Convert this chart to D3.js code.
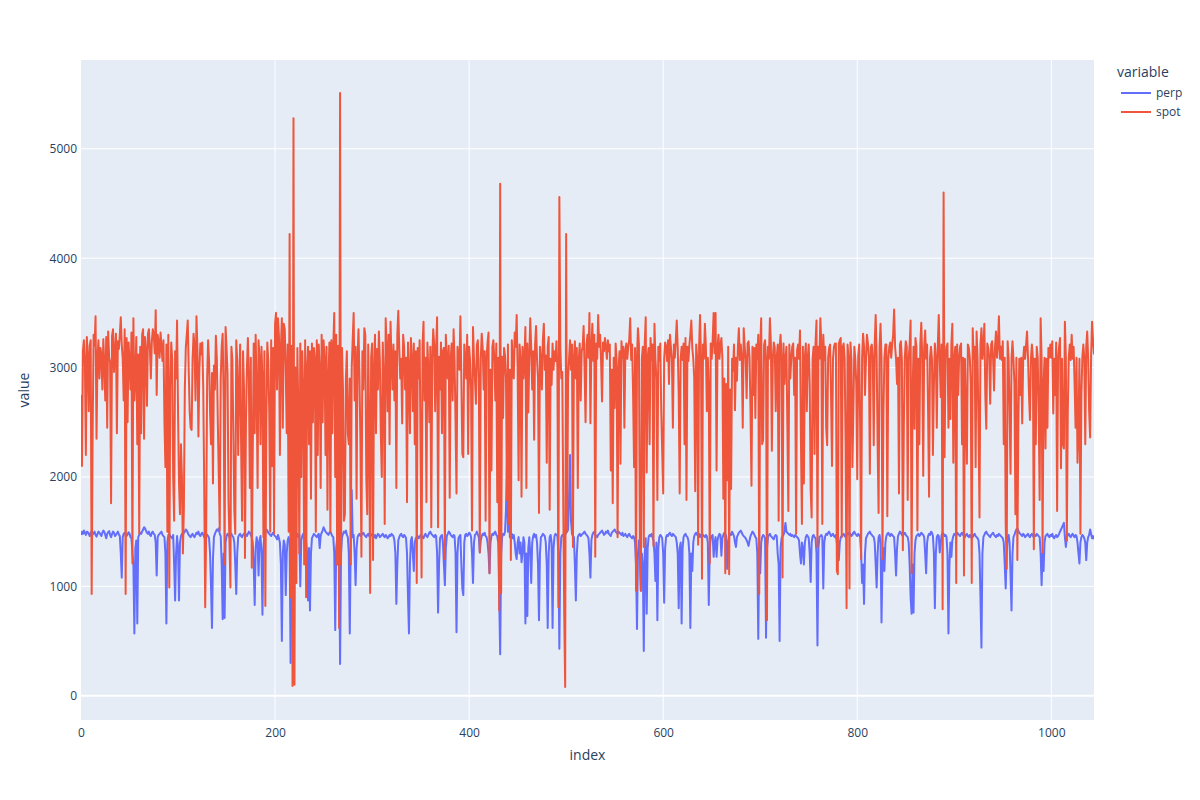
<!DOCTYPE html>
<html>
<head>
<meta charset="utf-8">
<script src="https://cdnjs.cloudflare.com/ajax/libs/d3/7.8.5/d3.min.js"></script>
<style>
  body { margin: 0; background: #fff; }
  svg text { font-family: "Open Sans", sans-serif; fill: #2a3f5f; }
</style>
</head>
<body>
<script>
// series (index 0..1044)
const seriesNames = ["perp", "spot"];
const seriesColors = ["#636efa", "#EF553B"];
const xTicks = [0, 200, 400, 600, 800, 1000];
const yTicks = [0, 1000, 2000, 3000, 4000, 5000];

const perp = [
1470,1500,1480,1510,1490,1470,1500,1495,1480,1460,1490,1505,1475,1485,1500,1470,1455,1480,1500,1490,
1475,1460,1490,1510,1500,1470,1440,1480,1495,1505,1470,1450,1480,1500,1490,1460,1470,1485,1500,1475,
1460,1300,1080,1450,1480,1490,1470,1460,1475,1495,1480,1450,1440,1300,1200,570,1350,1420,660,1450,
1470,1490,1480,1500,1520,1540,1530,1510,1490,1480,1500,1470,1460,1490,1500,1480,1470,1400,1100,1450,
1470,1480,1490,1500,1470,1460,1450,1300,660,1400,1470,1480,1460,1450,1440,1470,1200,870,1300,1460,
1350,870,1400,1460,1480,1470,1490,1500,1520,1510,1490,1470,1460,1450,1470,1480,1460,1450,1470,1490,
1480,1500,1470,1460,1480,1490,1470,1450,1460,1480,1470,1460,1440,1300,1000,620,1250,1450,1480,1500,
1520,1510,1530,1480,1460,1200,700,1300,710,1400,1460,1480,1470,1450,1470,1480,1460,1450,1400,1200,
930,1300,1450,1470,1480,1460,1450,1470,1480,1490,1470,1460,1480,1500,1490,1470,1450,1400,1200,830,
1350,1450,1400,1100,1420,1460,1300,740,1350,1470,1500,1520,1510,1490,1480,1470,1460,1480,1490,1470,
1460,1450,1430,1470,1440,1400,1200,500,1300,1420,1380,920,1300,1420,1450,1400,300,1300,1450,1480,
1100,1400,1460,1480,1450,1470,1000,1420,1460,1480,1470,1450,1420,1300,870,1350,780,1300,1440,1460,
1480,1470,1460,1450,1470,1480,1350,1460,1490,1510,1540,1520,1500,1490,1480,1470,1490,1500,1480,1460,
1450,1300,600,1350,1440,1460,1420,290,1300,1450,1480,1500,1490,1510,1470,1450,1300,570,1400,1880,
1450,1470,1300,1010,1350,1450,1470,1480,1460,1470,1480,1490,1470,1460,1450,1470,1480,1460,1450,1470,
1480,1460,1450,1470,1440,1460,1480,1470,1450,1460,1470,1480,1460,1450,1470,1460,1440,1450,1470,1460,
1480,1470,1460,1420,1300,840,1200,1420,1450,1470,1480,1460,1450,1470,1460,1440,1300,900,570,1200,
1420,1450,1300,1140,1400,1440,1450,1460,1440,1450,1470,1460,1450,1440,1470,1480,1460,1450,1470,1490,
1500,1480,1470,1460,1450,1470,1460,1300,760,1200,1440,1460,1470,1400,1200,1010,1350,1460,1480,1500,
1490,1470,1460,1450,1470,1460,1300,580,1300,1440,1460,1470,1200,980,920,1400,1470,1480,1460,1470,
1490,1480,1450,1300,1030,1400,1470,1480,1500,1470,1450,1310,1420,1460,1480,1470,1490,1460,1450,1400,
1300,1120,1400,1460,1480,1470,1490,1500,1470,1460,1400,900,380,1300,1450,1480,1470,1500,1700,2130,
1500,1700,1450,1460,1480,1440,1470,1400,1300,1250,1400,1450,1300,1400,1220,1300,1450,1400,660,1300,
730,1350,1450,1300,1030,1400,1460,1480,1450,1470,1400,1200,690,1300,1450,1460,1480,1470,1460,1400,
1200,620,1300,1450,1470,1400,620,1350,1460,1480,1470,1460,1300,430,1300,1450,1470,1460,1480,1470,
1490,1500,1520,1800,2200,1600,1480,1460,1450,1200,870,1300,1450,1470,1480,1460,1470,1480,1490,1500,
1480,1470,1460,1440,1300,1080,1420,1470,1490,1500,1470,1460,1450,1470,1480,1490,1500,1510,1490,1470,
1480,1500,1490,1510,1480,1470,1460,1490,1500,1510,1520,1500,1490,1480,1500,1490,1480,1470,1490,1460,
1470,1480,1460,1450,1470,1480,1460,1450,1440,1460,1450,1400,1200,610,1300,1420,1300,960,1300,1200,
410,1300,1440,750,1350,1450,1470,1460,1480,1450,1420,1300,1050,1400,690,1350,1450,1470,1460,1440,
1300,850,1350,1450,1470,1460,1480,1490,1470,1460,1480,1470,1460,1450,1400,1300,800,1350,1400,660,
1350,1450,1470,1480,1460,1450,1420,1300,620,1300,1140,1400,1460,1480,1490,1470,1460,1480,1450,1470,
1480,1470,1460,1450,1470,1460,1400,830,1350,1440,1460,1470,1270,1400,1450,1270,1420,1460,1480,1470,
1280,1440,1470,1490,1480,1460,1160,1400,1460,1480,1470,1500,1480,1460,1400,1360,1450,1470,1490,1500,
1510,1490,1470,1460,1450,1440,1420,1400,1370,1420,1460,1480,1500,1490,1470,1450,1440,1300,520,1350,
1120,1400,1450,1470,1460,1440,530,1350,1450,1470,1480,1460,1450,1440,1430,1460,1470,1460,1300,1200,
500,1350,1440,1460,1470,1500,1580,1500,1490,1480,1470,1480,1460,1470,1460,1450,1470,1460,1450,1440,
1420,1300,1210,1400,1350,1200,1400,1450,1470,1460,1440,1300,1040,1400,1460,1470,1450,1440,1300,460,
1350,1450,1460,1470,1450,980,1400,1460,1480,1470,1490,1500,1480,1460,1470,1480,1460,1450,1470,1400,
1300,1240,1400,1450,1460,1470,1480,1460,1450,1470,1480,1490,1470,1480,1460,1470,1490,1500,1480,1470,
1460,1480,1470,1450,1300,1030,1200,840,1300,1440,1460,1480,1490,1500,1480,1470,1460,1450,1400,1200,
990,1300,1450,1470,1400,670,1200,1350,1140,1400,1460,1480,1490,1470,1460,1480,1470,1460,1450,1300,
1100,1350,1460,1480,1500,1490,1470,1460,1480,1490,1470,1460,1450,1400,1200,900,750,1200,760,1300,
1420,1460,1470,1480,1460,1470,1490,1480,1470,1450,1300,1120,1400,1460,1480,1470,1500,1490,1460,1300,
800,1300,1450,1470,1460,1310,1400,1470,1490,1480,1460,1470,1450,1300,570,1200,1400,1270,1420,1460,
1480,1470,1460,1490,1480,1470,1460,1480,1490,1470,1460,1450,1470,1480,1460,1450,1470,1460,1440,1450,
1470,1480,1460,1450,1440,1420,1300,900,440,1300,1450,1470,1490,1500,1480,1470,1460,1450,1470,1480,
1490,1470,1460,1450,1470,1460,1480,1470,1460,1450,1440,1400,1200,980,1300,1450,1470,1400,1100,780,
1300,1450,1470,1500,1520,1530,1510,1490,1480,1470,1460,1480,1470,1450,1460,1470,1480,1460,1450,1470,
1480,1460,1450,1470,1460,1480,1470,1460,1450,1300,1010,1300,1140,1400,1460,1470,1480,1460,1450,1470,
1460,1480,1450,1440,1460,1470,1450,1460,1480,1500,1520,1540,1560,1580,1450,1360,1450,1470,1480,1460,
1450,1470,1480,1460,1450,1470,1460,1400,1300,1210,1400,1450,1470,1460,1440,1400,1240,1400,1450,1470,
1520,1480,1440,1460,1430
];

const spot = [
2750,2100,3150,3250,3050,2200,3280,3100,2600,3200,3250,930,2400,3300,3200,3470,2350,3100,3250,2900,
3180,3120,2800,3260,3020,2700,3280,2450,3330,3090,3050,1760,3290,3350,2960,3140,3310,2400,3240,3170,
3300,3460,3210,3080,2700,3350,930,3270,2500,3230,3060,2800,3320,1210,3450,2700,2900,3280,2300,3120,
1480,3190,2400,3300,3350,2350,3280,3150,2650,3310,3350,3170,2900,3240,3350,3290,3130,3525,2750,3300,
3240,3090,3320,3190,3060,3250,2500,2090,3210,1500,3300,990,2800,3230,3070,2000,1600,3150,2900,3430,
2600,1950,1660,2300,2000,1300,1700,2800,3180,3300,3430,2980,2600,2450,2430,3070,3310,3190,2700,3470,
3160,2370,2980,3220,3120,3230,2800,1900,810,1500,2900,3250,3060,2600,2300,2950,1940,3020,2800,3290,
3080,2500,2000,1510,2900,3190,3310,2700,1200,3370,3180,2950,1800,1400,990,3190,3070,2400,1700,1480,
3250,3060,2200,2800,3210,2300,1600,3150,2800,1260,2500,3000,3270,2900,1900,3090,1170,2200,3220,2400,
3300,2800,1900,3250,3080,2300,3190,2900,1450,3150,820,2500,3230,3060,2600,1500,3250,2100,3180,1480,
3400,3500,2800,3450,3290,2200,3180,3450,2450,3400,3350,2980,2400,3210,1500,4220,900,3200,90,5280,
100,3000,1030,3180,2600,1300,3220,2000,3150,2800,1200,3250,900,3000,3190,2300,3150,1800,3220,2500,
3180,3080,1500,3250,2200,3210,2980,1900,3300,2500,3250,3070,2200,3190,1700,2900,3230,1500,3250,2400,
3190,3500,2000,3300,1200,3200,620,5510,1200,3180,2800,1600,1660,2900,3150,2400,2300,2900,1200,3000,
3250,3500,2700,3190,1800,3080,3350,2900,2300,1270,3150,2800,3360,3300,2000,1660,3210,2500,940,3090,
3220,1240,2980,3300,2400,3170,2800,3330,3060,2400,2000,3230,2900,1570,3450,3180,2600,3300,2300,3420,
3070,2800,3210,2700,3150,1900,3300,3520,3180,2900,3080,2490,3300,3190,2800,3090,1770,3230,2980,2400,
3270,3070,2600,3220,2300,3150,1030,3180,2900,3250,2200,1080,3210,3420,2700,3090,1770,3230,2980,2500,
3190,1540,3080,3350,3210,2600,3170,3460,1540,3100,2800,3230,2400,3150,3180,1250,3300,3080,2900,3200,
1810,3090,3220,2700,3350,3060,2500,1850,3190,3080,2980,3470,2900,2210,2180,3210,3070,2900,3300,2210,
3190,3060,2800,1510,3370,3080,2900,2670,3210,3250,2900,1310,3080,3310,3170,2800,3150,1600,3090,3230,
3320,1120,2980,2060,3190,3250,3070,2700,3220,1770,3090,780,4680,940,3100,2540,3180,3110,2900,1790,
3210,1570,2980,1240,3250,3060,2900,3320,3190,3480,2980,1970,3210,3070,1820,3190,2900,3080,3370,1900,
3220,2590,3090,3450,3180,2800,3150,2340,3210,3380,3070,2900,1670,3190,3080,2800,3250,3400,2980,3110,
2130,3190,3280,1700,3080,2840,3220,2980,3150,3060,3240,2980,810,4560,3190,2900,2960,1790,750,80,
4220,1500,2900,3080,3250,2980,3210,1360,3090,3240,2900,3180,1900,3070,3220,2700,3150,3190,3380,2980,
2500,3210,3300,3090,3500,2490,3180,3400,3060,3300,1270,3220,3080,3480,3190,3300,3060,2690,3230,3150,
3270,3190,3080,3250,3150,3210,2060,2980,1760,3090,2630,3220,3070,1450,2980,3150,2120,3240,3090,3190,
2450,3150,3220,3080,3190,3250,3450,3070,3210,2750,2090,3180,960,3090,3360,3210,1270,960,3080,3190,
1360,3220,3460,2040,3090,3180,2300,3270,3070,3210,1370,3400,3080,2900,1790,3190,3060,3220,2600,2220,
1850,3080,3230,3190,3060,3250,2850,3300,3180,3070,2450,3210,3090,3250,3430,3180,2750,1850,3080,3190,
3070,3220,2300,3270,1790,3190,3060,3210,3300,3430,3180,3080,2900,1870,3210,3090,1380,3190,3480,3070,
1070,3210,3080,3400,3190,2600,3090,2800,1210,3220,3080,3250,3500,3130,3500,2060,3190,3300,3080,3210,
3270,3090,1800,2900,1120,2850,1970,3190,1110,2800,1890,3080,2970,3210,2610,3090,2880,3190,3360,3070,
3210,3080,2450,3360,3190,3070,2720,3220,3240,3090,2600,1920,3190,2750,3180,2540,3210,3080,3300,930,
3190,3450,2300,2340,3210,3250,3070,690,3190,3080,3450,3220,2240,3090,3230,3180,2600,3090,3210,1600,
3190,3300,3080,1080,3220,2850,3070,3190,2450,1690,3210,2900,3080,3190,3220,2750,3090,1480,3160,3210,
3080,3340,2300,1570,3190,1940,3090,3220,2600,3090,3210,2850,1880,1630,3080,3190,2210,3220,3430,1360,
3190,3080,3450,3210,1570,3300,3070,3190,2450,2290,3090,3180,3210,2750,2100,3080,3190,3220,3220,1140,
1110,3220,3250,3270,1450,3190,3220,3080,2300,800,3210,3090,980,3230,3070,2090,2600,3190,3080,2850,
1980,3110,3210,2450,1250,3090,3310,3190,2750,3070,3300,3220,3090,2030,3190,3210,3080,2290,3220,3480,
3090,2300,1670,3190,3400,3080,1250,2600,3090,3210,3210,1640,3080,3190,3230,3090,3210,3300,3530,3190,
3080,2850,3090,1850,3210,3240,3070,1330,2450,3090,3240,3190,1790,3080,3210,3430,1120,2750,3190,2440,
3270,3190,1510,3080,2300,3210,3410,3090,2010,3190,3340,3080,3210,2600,1820,3090,3190,3080,2200,2850,
3220,3090,2450,3190,3480,3080,2730,3210,790,4600,2180,3090,3190,3220,2450,3080,2530,3210,3400,2130,
3090,3190,1030,3210,2750,3080,3190,3220,2300,3090,1100,3080,2600,2120,3210,3180,3090,2850,1030,3360,
3080,3190,2090,3330,3090,2450,1630,3210,3360,3080,3190,3400,2750,2440,3220,3180,3090,2670,3210,3240,
3080,2790,3190,3330,3090,3210,3470,3080,3190,3070,3240,2300,3090,1570,1160,3240,3080,2600,2030,3090,
3240,3070,2850,1660,3090,1240,2450,3080,2750,3090,2490,3070,3190,3080,3210,3330,3090,2750,2520,3080,
3210,3090,1340,3080,2300,3190,3090,2600,1790,3450,3080,1310,2850,3090,2260,3080,2450,3180,3090,3210,
3090,3240,2580,3080,2750,3230,1690,3090,3190,3270,2080,3080,2300,2260,3420,3090,1420,2600,3090,3210,
3070,3300,3080,3190,2850,2450,3090,2130,2450,3080,1480,2750,3090,3210,3080,2300,3190,3330,3080,2600,
2360,3100,3420,3250,3120
];

const W = 1200, H = 800;
const margin = { left: 81, top: 60, right: 106, bottom: 80 };
const pw = W - margin.left - margin.right;   // 1013
const ph = H - margin.top - margin.bottom;   // 660

const svg = d3.select("body").append("svg")
  .attr("width", W)
  .attr("height", H);

// scales (plotly-like autorange: 5% pixel padding on y)
const n = spot.length;
const xScale = d3.scaleLinear().domain([0, n - 1]).range([margin.left, margin.left + pw]);

const all = perp.concat(spot);
const lo = d3.min(all), hi = d3.max(all);
const ext = (hi - lo) * 0.05 / 0.9;
const yScale = d3.scaleLinear().domain([lo - ext, hi + ext]).range([margin.top + ph, margin.top]);

// background
svg.append("rect")
  .attr("x", margin.left).attr("y", margin.top)
  .attr("width", pw).attr("height", ph)
  .attr("fill", "#E5ECF6");

// grid
svg.append("g").selectAll("line")
  .data(xTicks.filter(d => d !== 0))
  .enter().append("line")
  .attr("x1", d => xScale(d)).attr("x2", d => xScale(d))
  .attr("y1", margin.top).attr("y2", margin.top + ph)
  .attr("stroke", "#fff").attr("stroke-width", 1);

svg.append("g").selectAll("line")
  .data(yTicks.filter(d => d !== 0))
  .enter().append("line")
  .attr("x1", margin.left).attr("x2", margin.left + pw)
  .attr("y1", d => yScale(d)).attr("y2", d => yScale(d))
  .attr("stroke", "#fff").attr("stroke-width", 1);

// zero line
svg.append("line")
  .attr("x1", margin.left).attr("x2", margin.left + pw)
  .attr("y1", yScale(0)).attr("y2", yScale(0))
  .attr("stroke", "#fff").attr("stroke-width", 2);

// axes (labels only, plotly style)
const xAxis = d3.axisBottom(xScale).tickValues(xTicks).tickSize(0).tickPadding(8).tickFormat(d3.format("d"));
const yAxis = d3.axisLeft(yScale).tickValues(yTicks).tickSize(0).tickPadding(3).tickFormat(d3.format("d"));

const gx = svg.append("g")
  .attr("transform", "translate(0," + (margin.top + ph) + ")")
  .call(xAxis);
const gy = svg.append("g")
  .attr("transform", "translate(" + (margin.left - 1) + ",0)")
  .call(yAxis);
[gx, gy].forEach(g => {
  g.select(".domain").remove();
  g.selectAll("text").style("font-size", "12px").attr("fill", "#2a3f5f");
});

// lines
svg.append("clipPath").attr("id", "clip")
  .append("rect")
  .attr("x", margin.left).attr("y", margin.top)
  .attr("width", pw).attr("height", ph);

const line = d3.line()
  .x((d, i) => xScale(i))
  .y(d => yScale(d));

[perp, spot].forEach((s, k) => {
  svg.append("path")
    .datum(s)
    .attr("clip-path", "url(#clip)")
    .attr("fill", "none")
    .attr("stroke", seriesColors[k])
    .attr("stroke-width", 2)
    .attr("stroke-linejoin", "round")
    .attr("d", line);
});

// axis titles
svg.append("text")
  .attr("x", margin.left + pw / 2).attr("y", 760)
  .attr("text-anchor", "middle")
  .style("font-size", "14px")
  .text("index");

svg.append("text")
  .attr("transform", "translate(29," + (margin.top + ph / 2) + ") rotate(-90)")
  .attr("text-anchor", "middle")
  .style("font-size", "14px")
  .text("value");

// legend
const legend = svg.append("g").attr("transform", "translate(1117,0)");
legend.append("text")
  .attr("x", 0).attr("y", 77)
  .style("font-size", "14px")
  .text("variable");

seriesNames.forEach((name, k) => {
  const y = 93 + k * 19;
  legend.append("line")
    .attr("x1", 4).attr("x2", 34)
    .attr("y1", y).attr("y2", y)
    .attr("stroke", seriesColors[k])
    .attr("stroke-width", 2);
  legend.append("text")
    .attr("x", 39).attr("y", y + 4)
    .style("font-size", "12px")
    .text(name);
});
</script>
</body>
</html>
